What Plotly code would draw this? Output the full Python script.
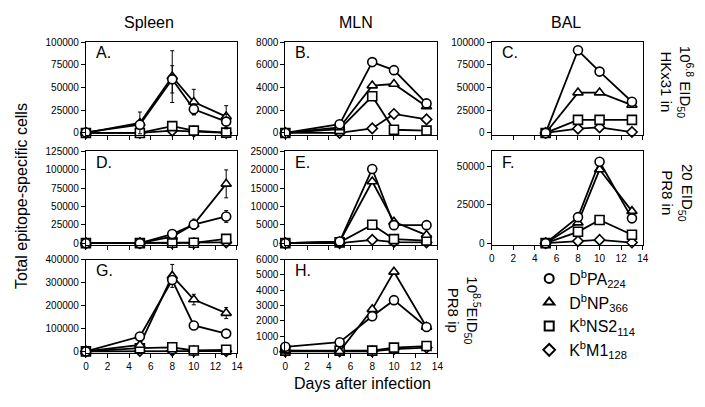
import plotly.graph_objects as go

days = [0, 5, 8, 10, 13]
bal_days = [5, 8, 10, 13]

# Panel A: Spleen, 10^6.8 EID50 HKx31 in
a_pa = [500, 9000, 59000, 26000, 12500]
a_np = [0, 11000, 62000, 34000, 18000]
a_ns2 = [0, 0, 7500, 2500, 300]
a_m1 = [0, 0, 2500, 1500, 0]
a_pa_err = [0, 3000, 15000, 6000, 8000]
a_np_err = [0, 12000, 28500, 14000, 12000]

# Panel B: MLN, HKx31 in
b_pa = [0, 770, 6240, 5530, 2600]
b_np = [0, 480, 4170, 4310, 2330]
b_ns2 = [0, 340, 3230, 280, 200]
b_m1 = [0, 0, 400, 1670, 1190]

# Panel C: BAL, HKx31 in
c_pa = [0, 91000, 67500, 34300]
c_np = [0, 44400, 44400, 30700]
c_ns2 = [0, 14400, 14400, 14400]
c_m1 = [0, 4700, 6100, 1000]

# Panel D: Spleen, 20 EID50 PR8 in
d_pa = [0, 0, 12400, 25300, 36300]
d_np = [0, 0, 8900, 25700, 80700]
d_ns2 = [0, 0, 500, 500, 5800]
d_m1 = [0, 0, 0, 0, 1000]
d_pa_err = [0, 0, 1500, 3000, 8000]
d_np_err = [0, 0, 0, 7000, 19000]

# Panel E: MLN, PR8 in
e_pa = [0, 440, 20200, 4900, 4900]
e_np = [0, 400, 16800, 5800, 2200]
e_ns2 = [0, 200, 5000, 1100, 700]
e_m1 = [0, 0, 900, 300, 200]

# Panel F: BAL, PR8 in
f_pa = [0, 17000, 53200, 16200]
f_np = [0, 13400, 48100, 20900]
f_ns2 = [0, 7400, 15100, 5500]
f_m1 = [0, 1300, 2100, 400]

# Panel G: Spleen, 10^8.5 EID50 PR8 ip
g_pa = [0, 65000, 311000, 113000, 77700]
g_np = [0, 28000, 329000, 226000, 167000]
g_ns2 = [0, 14000, 18000, 4000, 7000]
g_m1 = [0, 2000, 3000, 1000, 1000]
g_np_err = [0, 0, 50000, 23000, 24000]

# Panel H: MLN, PR8 ip
h_pa = [300, 600, 2300, 3350, 1600]
h_np = [50, 0, 2750, 5200, 1600]
h_ns2 = [50, 50, 50, 250, 350]
h_m1 = [0, 0, 0, 150, 250]

col_titles = ["Spleen", "MLN", "BAL"]
panel_letters = ["A.", "B.", "C.", "D.", "E.", "F.", "G.", "H."]
y_max = [100000, 8000, 100000, 125000, 25000, 60000, 400000, 6000]
y_dtick = [25000, 2000, 25000, 25000, 5000, 25000, 100000, 1000]
x_ticks = [0, 2, 4, 6, 8, 10, 12, 14]

series_names = ["D<sup>b</sup>PA<sub>224</sub>", "D<sup>b</sup>NP<sub>366</sub>",
                "K<sup>b</sup>NS2<sub>114</sub>", "K<sup>b</sup>M1<sub>128</sub>"]
symbols = ["circle", "triangle-up", "square", "diamond"]

W, H = 705, 407
col_px = [(84, 237), (286, 440), (495, 648)]
row_px = [(37, 132), (149, 245), (260, 356)]

panels = [
    (days, [a_pa, a_np, a_ns2, a_m1], [a_pa_err, a_np_err, None, None]),
    (days, [b_pa, b_np, b_ns2, b_m1], [None] * 4),
    (bal_days, [c_pa, c_np, c_ns2, c_m1], [None] * 4),
    (days, [d_pa, d_np, d_ns2, d_m1], [d_pa_err, d_np_err, None, None]),
    (days, [e_pa, e_np, e_ns2, e_m1], [None] * 4),
    (bal_days, [f_pa, f_np, f_ns2, f_m1], [None] * 4),
    (days, [g_pa, g_np, g_ns2, g_m1], [None, g_np_err, None, None]),
    (days, [h_pa, h_np, h_ns2, h_m1], [None] * 4),
]
positions = [(0, 0), (0, 1), (0, 2), (1, 0), (1, 1), (1, 2), (2, 0), (2, 1)]
show_xlabels = [False, False, False, False, False, True, True, True]

fig = go.Figure()
font_family = "Liberation Sans, Arial, sans-serif"

for i, ((xs, ys_list, errs), (r, c)) in enumerate(zip(panels, positions)):
    n = i + 1
    xa = "x" if n == 1 else f"x{n}"
    ya = "y" if n == 1 else f"y{n}"
    for k in [3, 2, 1, 0]:
        err = errs[k]
        tr = go.Scatter(
            x=xs, y=ys_list[k], xaxis=xa, yaxis=ya, mode="lines+markers",
            line=dict(color="black", width=1.8),
            marker=dict(symbol=symbols[k], size=9 if k != 3 else 8,
                        color="white", line=dict(color="black", width=1.6)),
            showlegend=False, cliponaxis=False, hoverinfo="skip",
        )
        if err is not None:
            tr.error_y = dict(type="data", array=err, color="black", thickness=1, width=2)
        fig.add_trace(tr)
    x0, x1 = col_px[c]
    yt, yb = row_px[r]
    xkey = "xaxis" if n == 1 else f"xaxis{n}"
    ykey = "yaxis" if n == 1 else f"yaxis{n}"
    fig.layout[xkey] = dict(
        domain=[x0 / W, x1 / W], anchor=ya, range=[0, 14], tickvals=x_ticks,
        showticklabels=show_xlabels[i], ticks="outside", ticklen=4, tickwidth=1,
        tickcolor="black", showline=True, linecolor="black", linewidth=1, mirror=True,
        showgrid=False, zeroline=False, tickfont=dict(size=10, color="black", family=font_family),
    )
    ymax = y_max[i]
    fig.layout[ykey] = dict(
        domain=[1 - yb / H, 1 - yt / H], anchor=xa, range=[-0.02 * ymax, ymax],
        dtick=y_dtick[i], tick0=0, tickformat="d", ticks="outside", ticklen=4, tickwidth=1,
        tickcolor="black", showline=True, linecolor="black", linewidth=1, mirror=True,
        showgrid=False, zeroline=False, tickfont=dict(size=10, color="black", family=font_family),
    )
    fig.add_annotation(text=panel_letters[i], xref="paper", yref="paper",
                       x=(x0 + 8) / W, y=1 - (yt + 11) / H, xanchor="left", yanchor="middle",
                       showarrow=False, font=dict(size=16, color="black", family=font_family))

# legend entries
for k in range(4):
    fig.add_trace(go.Scatter(
        x=[None], y=[None], mode="markers", name=series_names[k],
        marker=dict(symbol=symbols[k], size=9,
                    color="white", line=dict(color="black", width=2)),
        showlegend=True))

fig.update_layout(
    legend=dict(x=533 / W, y=1 - 262 / H, xanchor="left", yanchor="top",
                font=dict(size=16, color="black", family=font_family),
                bgcolor="rgba(0,0,0,0)", tracegroupgap=0, itemwidth=30),
)

# column titles
col_centers = [148, 358, 570]
for t, cx in zip(col_titles, col_centers):
    fig.add_annotation(text=t, xref="paper", yref="paper", x=cx / W, y=1 - 17 / H,
                       xanchor="center", yanchor="middle", showarrow=False,
                       font=dict(size=16, color="black", family=font_family))

# row labels
row_labels = [
    ("10<sup>6.8</sup> EID<sub>50</sub><br>HKx31 in", 683, 78),
    ("20 EID<sub>50</sub><br>PR8 in", 683, 192),
    ("10<sup>8.5</sup>EID<sub>50</sub><br>PR8 ip", 467, 312),
]
for t, cx, cy in row_labels:
    fig.add_annotation(text=t, xref="paper", yref="paper", x=cx / W, y=1 - cy / H,
                       xanchor="center", yanchor="middle", showarrow=False, textangle=90,
                       font=dict(size=15, color="black", family=font_family))

fig.add_annotation(text="Total epitope-specific cells", xref="paper", yref="paper",
                   x=18 / W, y=1 - 195 / H, xanchor="center", yanchor="middle",
                   showarrow=False, textangle=-90,
                   font=dict(size=16, color="black", family=font_family))
fig.add_annotation(text="Days after infection", xref="paper", yref="paper",
                   x=364 / W, y=1 - 387 / H, xanchor="center", yanchor="middle",
                   showarrow=False, font=dict(size=16, color="black", family=font_family))

fig.update_layout(width=W, height=H, margin=dict(l=0, r=0, t=0, b=0),
                  plot_bgcolor="white", paper_bgcolor="white", hovermode=False,
                  font=dict(family=font_family, color="black"))

fig.write_html("out.html", config={"displayModeBar": False},
               post_script="document.body.style.margin='0';")
